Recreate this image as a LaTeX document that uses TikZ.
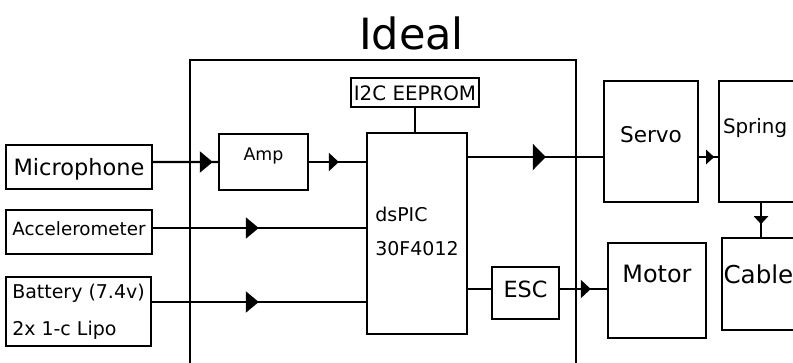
\documentclass[tikz,border=0pt]{standalone}
\usepackage{fontspec}
\setmainfont{DejaVu Sans}
\usetikzlibrary{arrows.meta,decorations.markings}

\newcommand{\fs}[2]{\fontsize{#1}{#2}\selectfont}

\begin{document}
\begin{tikzpicture}[x=0.02cm,y=-0.02cm,
  blk/.style  ={draw,line width=0.9pt,inner sep=0pt,align=left},
  heavy/.style={blk,line width=1.4pt},
  sz/.style 2 args={minimum width=#1,minimum height=#2},
  tx/.style 2 args={text height=#1,text depth=#2},
  frame/.style={line width=0.6pt},
  plain/.style={line width=1.4pt},
  wire/.style 2 args={plain,postaction={decorate},
    decoration={markings,mark=at position #1 with {\arrow{#2}}}},
  tipXL/.tip={Triangle[length=0.26cm,width=0.52cm]},
  tipL/.tip ={Triangle[length=0.26cm,width=0.42cm]},
  tipS/.tip ={Triangle[length=0.2cm,width=0.36cm]},
  tipXS/.tip={Triangle[length=0.16cm,width=0.28cm]},
]
\clip (0,0) rectangle (793,362);
\node[anchor=base,font=\fs{24.5}{29}] (title) at (411.5,49) {Ideal};
\draw[frame] (190,380) |- (576,60) -- (576,380);

% inputs
\node[blk,sz={2.92cm}{0.88cm},tx={0.34cm}{0.02cm},font=\fs{12.8}{15}] (mic) at (79,167) {Microphone};
\node[blk,sz={2.92cm}{0.88cm},tx={0.28cm}{0.16cm},font=\fs{10.4}{12}] (accel) at (79,232) {Accelerometer};
\node[blk,sz={2.90cm}{1.38cm},tx={0.94cm}{0cm},font=\fs{10.8}{20.5}] (batt) at (78.5,311.5)
  {Battery (7.4v)\\2x 1-c Lipo};

% controller board
\node[blk,sz={1.78cm}{1.12cm},tx={0.26cm}{0.34cm},font=\fs{9.9}{12}] (amp) at (263.5,162) {Amp};
\node[blk,sz={2.0cm}{4.02cm},tx={0.86cm}{0cm},font=\fs{10.8}{18.8}] (dspic) at (417,233.5)
  {dsPIC\\30F4012};
\node[blk,sz={2.56cm}{0.58cm},tx={0.30cm}{0cm},font=\fs{11.3}{13}] (eeprom) at (415,92.5) {I2C EEPROM};
\node[blk,sz={1.34cm}{1.04cm},tx={0.34cm}{0.18cm},font=\fs{12.7}{15}] (esc) at (525.5,293) {ESC};

% outputs
\node[heavy,sz={1.88cm}{2.42cm},tx={0.32cm}{0.30cm},font=\fs{12.3}{15}] (servo) at (651,141.5) {Servo};
\node[heavy,sz={2.42cm}{2.42cm},tx={0.28cm}{0.62cm},inner xsep=0.08cm,text width=2.26cm,
  font=\fs{11.3}{13}] (spring) at (779.5,141.5) {Spring};
\node[blk,sz={1.96cm}{1.90cm},tx={0.34cm}{0.68cm},font=\fs{13.6}{16}] (motor) at (657,290.5) {Motor};
\node[heavy,sz={1.56cm}{1.84cm},tx={0.36cm}{0.40cm},inner xsep=0.03cm,text width=1.5cm,
  font=\fs{14}{17}] (cable) at (761,284) {Cable};

\coordinate (acc)  at ([yshift=0.08cm]accel.east);
\coordinate (bat)  at ([yshift=0.19cm]batt.east);
\coordinate (sin)  at ([yshift=-0.31cm]servo.west);
\coordinate (sout) at ([yshift=-0.31cm]servo.east);
\coordinate (ein)  at ([yshift=0.08cm]esc.west);
\coordinate (eout) at ([yshift=0.08cm]esc.east);

\draw[wire={1.2cm}{tipL}]  ([yshift=0.1cm]mic.east) -- (amp.west);
\draw[wire={0.6cm}{tipS}]  (amp.east) -- (amp.east -| dspic.west);
\draw[wire={2.12cm}{tipL}] (acc) -- (acc -| dspic.west);
\draw[wire={2.14cm}{tipL}] (bat) -- (bat -| dspic.west);
\draw[plain] (eeprom.south) -- (eeprom.south |- dspic.north);
\draw[wire={1.56cm}{tipXL}] (sin -| dspic.east) -- (sin);
\draw[wire={0.3cm}{tipXS}]  (sout) -- (sout -| spring.west);
\draw[wire={0.42cm}{tipXS}] (cable.north |- spring.south) -- (cable.north);
\draw[plain] (ein -| dspic.east) -- (ein);
\draw[wire={0.62cm}{tipS}]  (eout) -- (eout -| motor.west);
\end{tikzpicture}
\end{document}
